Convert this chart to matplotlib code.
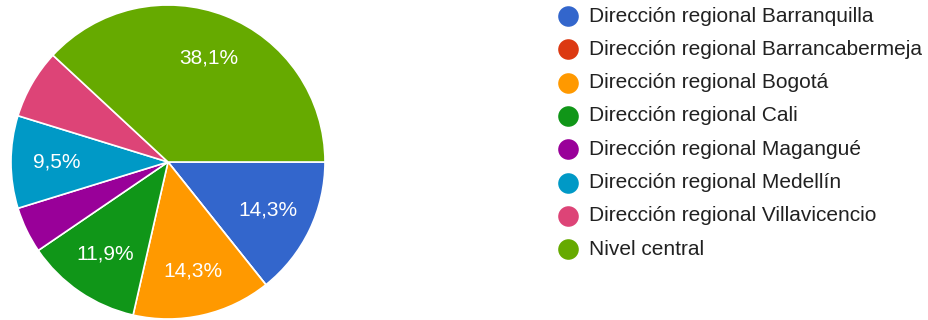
import matplotlib
matplotlib.use("Agg")
from matplotlib import pyplot as plt

# Responses per office (42 in total)
labels = [
    "Dirección regional Barranquilla",
    "Dirección regional Barrancabermeja",
    "Dirección regional Bogotá",
    "Dirección regional Cali",
    "Dirección regional Magangué",
    "Dirección regional Medellín",
    "Dirección regional Villavicencio",
    "Nivel central",
]
counts = [6, 0, 6, 5, 2, 4, 3, 16]
colors = ["#3366cc", "#dc3912", "#ff9900", "#109618",
          "#990099", "#0099c6", "#dd4477", "#66aa00"]

plt.rcParams["font.family"] = ["Liberation Sans", "DejaVu Sans"]

W, H = 929, 320
fig = plt.figure(figsize=(W / 100, H / 100), dpi=100)

# Pie area (pixel geometry)
cx, cy, r = 168, 162, 157
ax = fig.add_axes([(cx - r) / W, (H - cy - r) / H, 2 * r / W, 2 * r / H])


def pct_label(p):
    # small slices get no label
    return f"{p:.1f}%".replace(".", ",") if p >= 8 else ""


wedges, texts, autotexts = ax.pie(
    counts,
    colors=colors,
    startangle=0,
    counterclock=False,
    autopct=pct_label,
    pctdistance=0.71,
    wedgeprops=dict(edgecolor="white", linewidth=1.2),
    textprops=dict(color="white", fontsize=15),
)
ax.set_xlim(-1, 1)
ax.set_ylim(-1, 1)
ax.set_aspect("equal")
ax.axis("off")

# Legend drawn in a pixel-space overlay
lax = fig.add_axes([0, 0, 1, 1])
lax.set_xlim(0, W)
lax.set_ylim(H, 0)
lax.axis("off")
y0, step = 16, 33.3
for i, (lab, col) in enumerate(zip(labels, colors)):
    y = y0 + i * step
    lax.scatter([568], [y], s=220, color=col, linewidths=0)
    lax.text(589, y, lab, fontsize=15, color="#212121", va="center", ha="left")

fig.savefig("out.png", dpi=100, facecolor="white")
